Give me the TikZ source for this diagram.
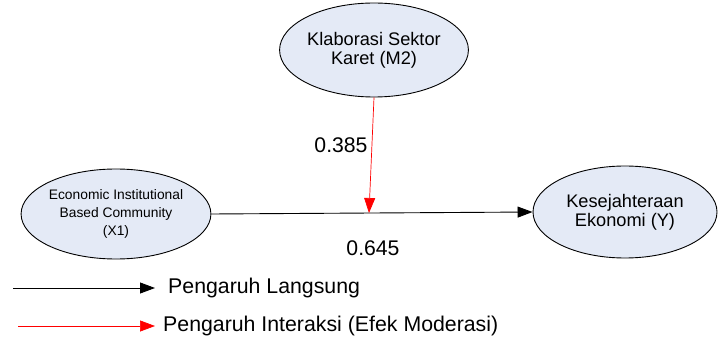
\documentclass[tikz,border=0pt]{standalone}
\usepackage{fontspec}
\setmainfont{Liberation Sans}
\usetikzlibrary{arrows.meta,shapes.geometric}
\definecolor{nodefill}{RGB}{228,234,246}
\definecolor{modred}{RGB}{255,0,0}
\begin{document}
\begin{tikzpicture}[x=1pt,y=1pt,
  latent/.style={ellipse, draw=black, fill=nodefill, line width=0.9pt,
    align=center, inner sep=0pt},
  bigtxt/.style={font=\fontsize{18.2}{19}\selectfont},
  smalltxt/.style={font=\fontsize{13.8}{18}\selectfont},
  coef/.style={font=\fontsize{21.2}{23}\selectfont},
  legtxt/.style={font=\fontsize{21.3}{23}\selectfont, anchor=west, inner sep=0pt},
  path/.style={line width=0.9pt, -{Triangle[length=15pt,width=11pt]}},
  direct/.style={path, draw=black},
  moder/.style={path, draw=modred, line width=0.7pt},
]
\useasboundingbox (0,0) rectangle (720,343);

% constructs
\node[latent, bigtxt, minimum width=178pt, minimum height=94pt] (M2) at (374,293)
  {Klaborasi Sektor\\Karet (M2)};
\node[latent, smalltxt, minimum width=182pt, minimum height=90pt] (X1) at (116,129)
  {Economic Institutional\\Based Community\\(X1)};
\node[latent, bigtxt, minimum width=184pt, minimum height=92pt] (Y) at (625,131)
  {Kesejahteraan\\Ekonomi (Y)};

% paths
\draw[direct] (X1.east) -- (Y.west);
\coordinate (hit) at (369,130);
\draw[moder] (M2.south) -- (hit);

% coefficients
\node[coef] (c1) at (341,198) {0.385};
\node[coef] (c2) at (373,95) {0.645};

% legend
\coordinate (la1) at (13,55);
\coordinate (la2) at (155,55);
\coordinate (lb1) at (18,17);
\coordinate (lb2) at (155,17);
\draw[direct] (la1) -- (la2);
\draw[moder] (lb1) -- (lb2);
\node[legtxt] (l1) at (168,55) {Pengaruh Langsung};
\node[legtxt] (l2) at (163,17) {Pengaruh Interaksi (Efek Moderasi)};
\end{tikzpicture}
\end{document}
